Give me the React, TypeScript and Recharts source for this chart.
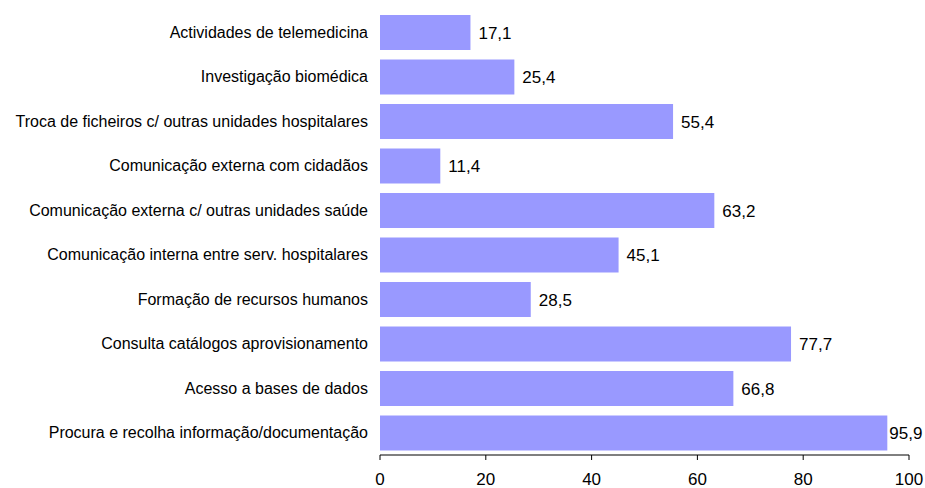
import { BarChart, Bar, XAxis, YAxis, LabelList } from "recharts";

const categories = [
  "Actividades de telemedicina",
  "Investigação biomédica",
  "Troca de ficheiros c/ outras unidades hospitalares",
  "Comunicação externa com cidadãos",
  "Comunicação externa c/ outras unidades saúde",
  "Comunicação interna entre serv. hospitalares",
  "Formação de recursos humanos",
  "Consulta catálogos aprovisionamento",
  "Acesso a bases de dados",
  "Procura e recolha informação/documentação",
];

const values = [17.1, 25.4, 55.4, 11.4, 63.2, 45.1, 28.5, 77.7, 66.8, 95.9];

const xTicks = [0, 20, 40, 60, 80, 100];

const data = categories.map((name, i) => ({ name, value: values[i] }));

const fmt = (v: unknown) => Number(v).toFixed(1).replace(".", ",");

// value label to the right of the bar, pulled in when it would run off the edge
const ValueLabel = (props: any) => {
  const { x, y, width, height, value } = props;
  const end = Number(x) + Number(width);
  const gap = end > 860 ? 2 : 8;
  return (
    <text
      x={end + gap}
      y={Number(y) + Number(height) / 2}
      dy="0.36em"
      fontSize={17}
      fill="#000"
    >
      {fmt(value)}
    </text>
  );
};

export default function App() {
  return (
    <div style={{ position: "absolute", top: 0, left: 0, fontFamily: "'Liberation Sans', Arial, sans-serif" }}>
      <style>{"html,body{margin:0;overflow:hidden}"}</style>
      <BarChart
        width={925}
        height={488}
        data={data}
        layout="vertical"
        margin={{ top: 10, right: 16, left: 0, bottom: 3 }}
        barCategoryGap="11%"
      >
        <XAxis
          type="number"
          domain={[0, 100]}
          ticks={xTicks}
          height={30}
          tickSize={5}
          tickMargin={13}
          stroke="#000"
          tick={{ fontSize: 17, fill: "#000" }}
        />
        <YAxis
          type="category"
          dataKey="name"
          width={380}
          axisLine={false}
          tickLine={false}
          tickSize={0}
          tickMargin={12}
          interval={0}
          tick={{ fontSize: 16, fill: "#000" }}
        />
        <Bar dataKey="value" fill="#9999FF" isAnimationActive={false}>
          <LabelList dataKey="value" content={ValueLabel} />
        </Bar>
      </BarChart>
    </div>
  );
}
